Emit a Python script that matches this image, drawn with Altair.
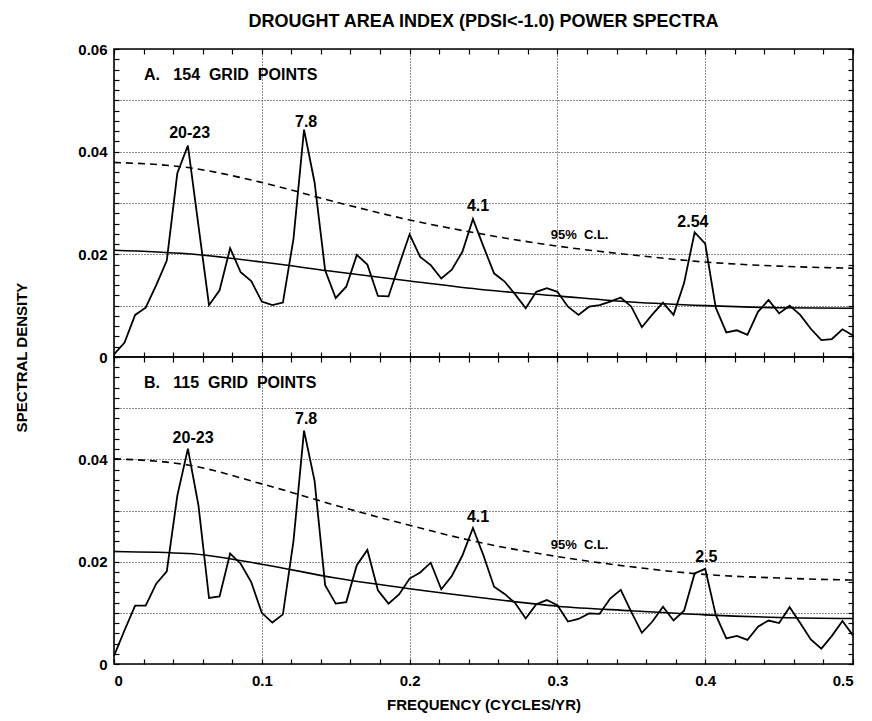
import altair as alt
import pandas as pd

FONT = "Liberation Sans"

# spectra, sampled at k/140 cycles/yr, k = 0..70
top_spec = [0.0005, 0.0028, 0.0082, 0.0096, 0.0140, 0.0188, 0.0358, 0.0412, 0.0256, 0.0101,
            0.0130, 0.0212, 0.0165, 0.0148, 0.0108, 0.0101, 0.0106, 0.0230, 0.0443, 0.0340,
            0.0169, 0.0115, 0.0137, 0.0199, 0.0180, 0.0119, 0.0118, 0.0179, 0.0239, 0.0195,
            0.0179, 0.0153, 0.0170, 0.0205, 0.0269, 0.0215, 0.0163, 0.0147, 0.0122, 0.0095,
            0.0127, 0.0134, 0.0127, 0.0098, 0.0082, 0.0098, 0.0101, 0.0108, 0.0116, 0.0098,
            0.0058, 0.0083, 0.0106, 0.0082, 0.0144, 0.0243, 0.0221, 0.0096, 0.0048, 0.0052,
            0.0043, 0.0088, 0.0111, 0.0085, 0.0100, 0.0082, 0.0055, 0.0033, 0.0035, 0.0054,
            0.0042]
bottom_spec = [0.0016, 0.0066, 0.0114, 0.0114, 0.0157, 0.0181, 0.0329, 0.0421, 0.0310, 0.0129,
               0.0132, 0.0216, 0.0196, 0.0160, 0.0100, 0.0081, 0.0097, 0.0240, 0.0456, 0.0358,
               0.0154, 0.0118, 0.0121, 0.0193, 0.0223, 0.0144, 0.0118, 0.0136, 0.0167, 0.0179,
               0.0198, 0.0146, 0.0172, 0.0212, 0.0266, 0.0212, 0.0151, 0.0137, 0.0119, 0.0089,
               0.0117, 0.0125, 0.0115, 0.0083, 0.0088, 0.0099, 0.0098, 0.0128, 0.0145, 0.0102,
               0.0061, 0.0083, 0.0112, 0.0085, 0.0104, 0.0177, 0.0186, 0.0096, 0.0050, 0.0055,
               0.0047, 0.0073, 0.0085, 0.0080, 0.0111, 0.0080, 0.0048, 0.0030, 0.0055, 0.0084,
               0.0056]

# red-noise fit and 95% confidence level
fit_freq = [0.0, 0.05, 0.1, 0.15, 0.2, 0.25, 0.3, 0.35, 0.4, 0.45, 0.5]
top_fit = [0.0208, 0.0201, 0.0185, 0.0166, 0.0148, 0.0131, 0.0119, 0.0107, 0.0100, 0.0096, 0.0095]
top_cl = [0.0379, 0.0369, 0.0340, 0.0302, 0.0267, 0.0239, 0.0216, 0.0199, 0.0185, 0.0177, 0.0173]
bot_fit = [0.0220, 0.0216, 0.0195, 0.0168, 0.0147, 0.0129, 0.0113, 0.0104, 0.0096, 0.0091, 0.0089]
bot_cl = [0.0401, 0.0389, 0.0352, 0.0310, 0.0271, 0.0236, 0.0210, 0.0190, 0.0175, 0.0168, 0.0164]

# annotations
top_note_text = ["20-23", "7.8", "4.1", "2.54"]
top_note_f = [0.0512, 0.130, 0.2463, 0.3917]
top_note_v = [0.0436, 0.0458, 0.0294, 0.0263]
bot_note_text = ["20-23", "7.8", "4.1", "2.5"]
bot_note_f = [0.0535, 0.130, 0.2463, 0.4008]
bot_note_v = [0.0442, 0.0478, 0.0288, 0.0209]
cl_label = "95%\u00a0\u00a0C.L."
top_cl_pos = [0.315, 0.0238]
bot_cl_pos = [0.315, 0.0232]
panel_labels = ["A.\u00a0\u00a0\u00a0154\u00a0\u00a0GRID\u00a0\u00a0POINTS",
                "B.\u00a0\u00a0\u00a0115\u00a0\u00a0GRID\u00a0\u00a0POINTS"]
panel_label_pos = [0.0203, 0.0550]

x_major = [0, 0.1, 0.2, 0.3, 0.4, 0.5]
y_grid = [0, 0.01, 0.02, 0.03, 0.04, 0.05, 0.06]
x_minor = [round(i * 0.02, 3) for i in range(26)]
y_minor = [round(i * 0.002, 4) for i in range(31)]

W = 739
xs = alt.Scale(domain=[0, 0.5], nice=False, zero=False)
ys = alt.Scale(domain=[0, 0.06], nice=False, zero=False)


def tick_axis(orient, values):
    return alt.Axis(orient=orient, values=values, offset=-5, tickSize=5, ticks=True,
                    tickColor="black", tickWidth=1.2, labels=False, domain=False, grid=False)


def panel(spec, fit, cl, note_text, note_f, note_v, cl_pos, plabel, height, shown_y, bottom):
    d = pd.DataFrame({"f": [k / 140 for k in range(len(spec))], "v": spec})
    c = pd.DataFrame({"f": fit_freq, "fit": fit, "cl": cl})
    notes = pd.DataFrame({"f": note_f, "v": note_v, "t": note_text})
    small = pd.DataFrame({"f": [cl_pos[0]], "v": [cl_pos[1]], "t": [cl_label]})
    plab = pd.DataFrame({"f": [panel_label_pos[0]], "v": [panel_label_pos[1]], "t": [plabel]})

    label_expr = "indexof(%s, datum.label) >= 0 ? datum.label : ''" % str(shown_y)
    y_common = dict(orient="left", values=y_grid, format="~g", labelExpr=label_expr,
                    grid=True, gridDash=[1, 2], gridColor="#222", gridWidth=1,
                    ticks=False, tickSize=0, domain=False, labelPadding=7,
                    labelFontSize=15, labelFontWeight="bold", labelFont=FONT,
                    labelColor="black")
    if bottom:
        main_y = alt.Axis(**y_common)
    else:
        main_y = alt.Axis(**y_common,
                          title="SPECTRAL DENSITY", titleX=-93, titleY=height,
                          titleAngle=270, titleAlign="center", titleBaseline="middle",
                          titleFont=FONT, titleFontSize=15, titleFontWeight="bold",
                          titleColor="black")
    if bottom:
        main_x = alt.Axis(orient="bottom", values=x_major, format="~g", grid=True,
                          gridDash=[1, 2], gridColor="#222", gridWidth=1, ticks=False,
                          tickSize=0, domain=False, labelPadding=9, labelFontSize=15,
                          labelFontWeight="bold", labelFont=FONT, labelColor="black",
                          title="FREQUENCY (CYCLES/YR)", titlePadding=9, titleFont=FONT,
                          titleFontSize=15, titleFontWeight="bold", titleColor="black")
    else:
        main_x = alt.Axis(orient="bottom", values=x_major, grid=True, gridDash=[1, 2],
                          gridColor="#222", gridWidth=1, ticks=False, tickSize=0,
                          domain=False, labels=False)

    data_line = alt.Chart(d).mark_line(color="black", strokeWidth=1.8).encode(
        x=alt.X("f:Q", scale=xs, axis=main_x, title=None if not bottom else "FREQUENCY (CYCLES/YR)"),
        y=alt.Y("v:Q", scale=ys, axis=main_y, title=None if bottom else "SPECTRAL DENSITY"),
    )
    fit_line = alt.Chart(c).mark_line(color="black", strokeWidth=1.6, interpolate="monotone").encode(
        x=alt.X("f:Q", scale=xs, axis=tick_axis("bottom", x_minor), title=None),
        y=alt.Y("fit:Q", scale=ys, axis=tick_axis("left", y_minor), title=None),
    )
    cl_line = alt.Chart(c).mark_line(color="black", strokeWidth=1.6, strokeDash=[7, 5],
                                     interpolate="monotone").encode(
        x=alt.X("f:Q", scale=xs, axis=tick_axis("top", x_minor), title=None),
        y=alt.Y("cl:Q", scale=ys, axis=tick_axis("right", y_minor), title=None),
    )
    note_layer = alt.Chart(notes).mark_text(font=FONT, fontWeight="bold", fontSize=16,
                                            color="black").encode(
        x=alt.X("f:Q", scale=xs, axis=None), y=alt.Y("v:Q", scale=ys, axis=None), text="t:N")
    small_layer = alt.Chart(small).mark_text(font=FONT, fontWeight="bold", fontSize=13,
                                             color="black").encode(
        x=alt.X("f:Q", scale=xs, axis=None), y=alt.Y("v:Q", scale=ys, axis=None), text="t:N")
    plab_layer = alt.Chart(plab).mark_text(font=FONT, fontWeight="bold", fontSize=16,
                                           color="black", align="left").encode(
        x=alt.X("f:Q", scale=xs, axis=None), y=alt.Y("v:Q", scale=ys, axis=None), text="t:N")

    return alt.layer(data_line, fit_line, cl_line, note_layer, small_layer, plab_layer).resolve_axis(
        x="independent", y="independent").properties(width=W, height=height)


top = panel(top_spec, top_fit, top_cl, top_note_text, top_note_f, top_note_v, top_cl_pos,
            panel_labels[0], 308, ["0", "0.02", "0.04", "0.06"], False)
bottom = panel(bottom_spec, bot_fit, bot_cl, bot_note_text, bot_note_f, bot_note_v, bot_cl_pos,
               panel_labels[1], 307, ["0", "0.02", "0.04"], True)

chart = alt.vconcat(top, bottom, spacing=0, bounds="flush").properties(
    title=alt.Title("DROUGHT AREA INDEX (PDSI<-1.0) POWER SPECTRA", font=FONT, fontSize=18,
                    fontWeight="bold", color="black", anchor="middle", frame="group", offset=10),
    padding={"left": 5, "top": 5, "right": 5, "bottom": 5},
).configure_view(stroke="black", strokeWidth=1.6)

chart.save("out.html", embed_options={"renderer": "svg", "actions": False})
